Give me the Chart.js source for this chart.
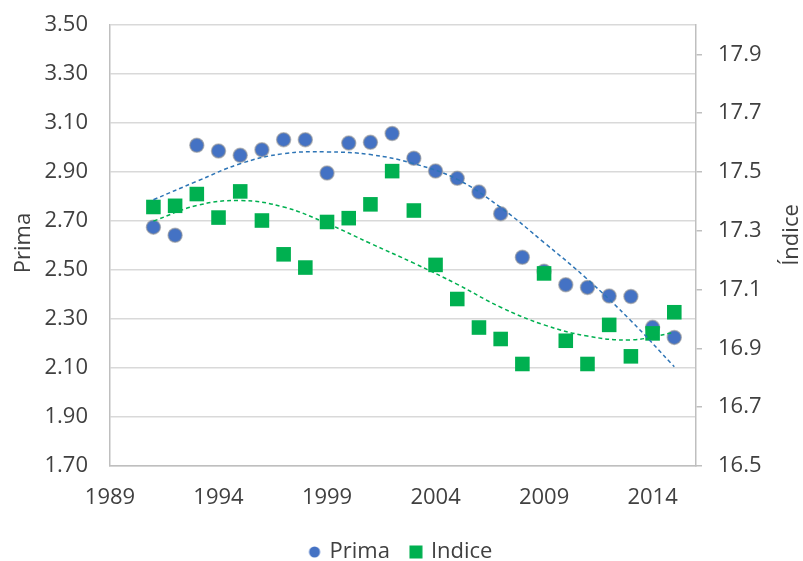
<!DOCTYPE html>
<html>
<head>
<meta charset="utf-8">
<script src="https://cdn.jsdelivr.net/npm/chart.js@4/dist/chart.umd.min.js"></script>
<style>
  html, body { margin: 0; padding: 0; background: #fff; }
  #wrap { width: 803px; height: 561px; }
</style>
</head>
<body>
<div id="wrap"><canvas id="chart"></canvas></div>
<script>
// years with observations
const years = [1991, 1992, 1993, 1994, 1995, 1996, 1997, 1998, 1999, 2000, 2001, 2002, 2003,
               2004, 2005, 2006, 2007, 2008, 2009, 2010, 2011, 2012, 2013, 2014, 2015];

// Prima (left axis)
const prima = [2.675, 2.642, 3.009, 2.986, 2.968, 2.991, 3.032, 3.032, 2.896, 3.018, 3.021, 3.057, 2.956,
               2.904, 2.874, 2.818, 2.730, 2.552, 2.495, 2.440, 2.429, 2.394, 2.392, 2.266, 2.225];

// Indice (right axis)
const indice = [17.381, 17.385, 17.425, 17.345, 17.434, 17.335, 17.220, 17.175, 17.330, 17.343, 17.390, 17.503, 17.369,
                17.184, 17.068, 16.971, 16.932, 16.847, 17.155, 16.926, 16.847, 16.980, 16.873, 16.951, 17.023];

// trend lines
const trendYears = [1991, 1993, 1995, 1997, 1999, 2001, 2003, 2005, 2007, 2009, 2011, 2013, 2015];
const primaTrend = [2.787, 2.862, 2.934, 2.975, 2.982, 2.971, 2.934, 2.870, 2.755, 2.612, 2.462, 2.293, 2.105];
const indiceTrend = [17.333, 17.386, 17.403, 17.381, 17.325, 17.257, 17.190, 17.118, 17.040, 16.980, 16.942, 16.929, 16.954];

// axis ticks
const xTicks = [1989, 1994, 1999, 2004, 2009, 2014];
const leftTicks = [1.7, 1.9, 2.1, 2.3, 2.5, 2.7, 2.9, 3.1, 3.3, 3.5];
const rightTicks = [16.5, 16.7, 16.9, 17.1, 17.3, 17.5, 17.7, 17.9];

const textColor = '#404040';
const fontFamily = "'Open Sans', sans-serif";
const fontSize = 22;

const toPoints = (xs, ys) => xs.map((x, i) => ({ x: x, y: ys[i] }));

// small legend icons
function legendIcon(shape, color) {
    const c = document.createElement('canvas');
    c.width = 14; c.height = 14;
    const g = c.getContext('2d');
    g.fillStyle = color;
    if (shape === 'circle') {
        g.beginPath();
        g.arc(7, 7, 5.5, 0, Math.PI * 2);
        g.fill();
    } else {
        g.fillRect(0.5, 0.5, 13, 13);
    }
    return c;
}
const icons = [legendIcon('circle', '#4472c4'), legendIcon('rect', '#00b050')];

// draws the two axis titles, both reading bottom to top
const axisTitles = {
    id: 'axisTitles',
    afterDraw(chart) {
        const ctx = chart.ctx;
        ctx.save();
        ctx.fillStyle = textColor;
        ctx.font = fontSize + "px " + fontFamily;
        ctx.textAlign = 'center';
        ctx.textBaseline = 'middle';
        [['Prima', 24, 243], ['Índice', 792, 235]].forEach(([t, x, y]) => {
            ctx.save();
            ctx.translate(x, y);
            ctx.rotate(-Math.PI / 2);
            ctx.fillText(t, 0, 0);
            ctx.restore();
        });
        ctx.restore();
    }
};

// y axes: fixed width, no extra padding above/below for labels
const fitY = w => s => { s.width = w; s.paddingTop = 0; s.paddingBottom = 0; };

const config = {
    type: 'scatter',
    data: {
        datasets: [
            {
                label: 'Prima',
                data: toPoints(years, prima),
                yAxisID: 'y',
                pointStyle: 'circle',
                pointRadius: 7,
                pointHoverRadius: 7,
                backgroundColor: '#4472c4',
                borderColor: 'rgba(150,150,150,0.6)',
                borderWidth: 1.5,
                order: 3
            },
            {
                label: 'Indice',
                data: toPoints(years, indice),
                yAxisID: 'y1',
                pointStyle: 'rect',
                pointRadius: 10.3,
                pointHoverRadius: 10.3,
                backgroundColor: '#00b050',
                borderColor: '#00b050',
                borderWidth: 0,
                order: 2
            },
            {
                label: 'trendPrima',
                data: toPoints(trendYears, primaTrend),
                yAxisID: 'y',
                showLine: true,
                tension: 0.4,
                pointRadius: 0,
                borderColor: '#2e75b6',
                borderWidth: 1.5,
                borderDash: [4, 3],
                order: 1
            },
            {
                label: 'trendIndice',
                data: toPoints(trendYears, indiceTrend),
                yAxisID: 'y1',
                showLine: true,
                tension: 0.4,
                pointRadius: 0,
                borderColor: '#00b050',
                borderWidth: 1.5,
                borderDash: [4, 3],
                order: 1
            }
        ]
    },
    options: {
        responsive: true,
        maintainAspectRatio: false,
        animation: false,
        layout: {
            autoPadding: false,
            padding: { top: 25, right: 0, bottom: -12, left: 0 }
        },
        plugins: {
            legend: {
                position: 'bottom',
                labels: {
                    generateLabels: chart => {
                        const items = Chart.defaults.plugins.legend.labels.generateLabels(chart);
                        return items.filter(it => it.datasetIndex < 2).map(it => {
                            it.pointStyle = icons[it.datasetIndex];
                            return it;
                        });
                    },
                    sort: (a, b) => a.datasetIndex - b.datasetIndex,
                    usePointStyle: true,
                    boxWidth: 8,
                    boxHeight: 14,
                    padding: 22,
                    color: textColor,
                    font: { size: fontSize, family: fontFamily }
                }
            },
            tooltip: { enabled: false }
        },
        scales: {
            x: {
                type: 'linear',
                min: 1989,
                max: 2016,
                afterBuildTicks: s => { s.ticks = xTicks.map(v => ({ value: v })); },
                afterFit: s => { s.height = 53; },
                grid: { display: false, drawTicks: false },
                border: { color: '#bfbfbf', width: 1.5 },
                ticks: {
                    padding: 19,
                    maxRotation: 0,
                    color: textColor,
                    font: { size: fontSize, family: fontFamily },
                    callback: v => String(v)
                }
            },
            y: {
                position: 'left',
                min: 1.7,
                max: 3.5,
                afterBuildTicks: s => { s.ticks = leftTicks.map(v => ({ value: v })); },
                afterFit: fitY(110),
                grid: { color: '#d9d9d9', lineWidth: 1.5, drawTicks: false },
                border: { color: '#bfbfbf', width: 1.5 },
                ticks: {
                    padding: 22,
                    color: textColor,
                    font: { size: fontSize, family: fontFamily },
                    callback: v => v.toFixed(2)
                }
            },
            y1: {
                position: 'right',
                min: 16.5,
                max: 18.0,
                afterBuildTicks: s => { s.ticks = rightTicks.map(v => ({ value: v })); },
                afterFit: fitY(107),
                grid: { drawOnChartArea: false, drawTicks: true, tickLength: 6, color: '#bfbfbf', lineWidth: 1.5 },
                border: { color: '#bfbfbf', width: 1.5 },
                ticks: {
                    padding: 16,
                    color: textColor,
                    font: { size: fontSize, family: fontFamily },
                    callback: v => v.toFixed(1)
                }
            }
        }
    },
    plugins: [axisTitles]
};

const ctx = document.getElementById('chart').getContext('2d');
new Chart(ctx, config);
</script>
</body>
</html>
